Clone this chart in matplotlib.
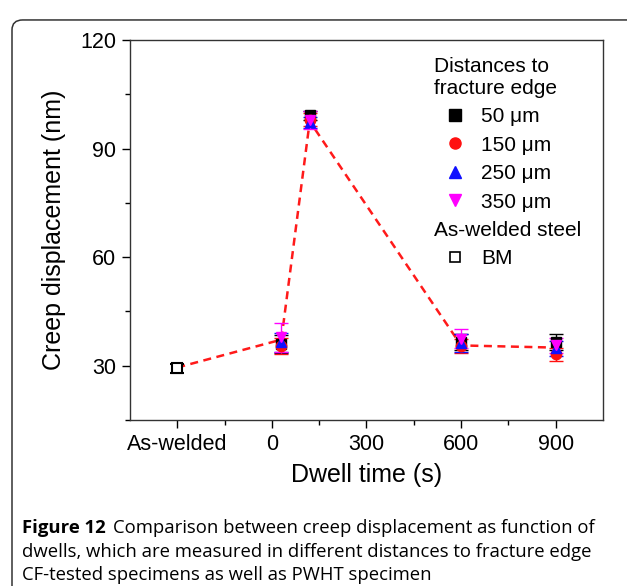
import numpy as np
import matplotlib
matplotlib.use("Agg")
import matplotlib.pyplot as plt
from matplotlib.lines import Line2D
from matplotlib.patches import FancyBboxPatch

# dwell times (s); "As-welded" base metal is put at -300 on the axis
dwell = [30, 120, 600, 900]
bm_x = [-300]
bm_y = [29.3]
bm_err = [1.2]

labels = ["50 \u03bcm", "150 \u03bcm", "250 \u03bcm", "350 \u03bcm"]
means = [
    [36.0, 99.2, 36.6, 36.5],   # 50 um
    [35.5, 98.0, 35.5, 33.2],   # 150 um
    [36.5, 97.2, 36.3, 34.8],   # 250 um
    [37.8, 97.8, 37.5, 35.6],   # 350 um
]
errs = [
    [2.5, 1.3, 2.2, 2.3],
    [2.2, 1.8, 2.0, 1.8],
    [2.6, 1.5, 2.5, 2.0],
    [4.0, 2.5, 2.7, 2.0],
]
# dashed trend line through the averaged values
trend_x = [-300, 30, 120, 600, 900]
trend_y = [29.5, 37.2, 97.5, 35.6, 35.0]

xticks = [-300, 0, 300, 600, 900]
xticklabels = ["As-welded", "0", "300", "600", "900"]

colors = ["black", "#ff1010", "#1010ff", "#ff00ff"]
markers = ["s", "o", "^", "v"]

plt.rcParams["font.family"] = ["Liberation Sans", "DejaVu Sans"]

fig = plt.figure(figsize=(6.27, 5.86), dpi=100)
ax = fig.add_axes([0.2073, 0.2833, 0.7544, 0.6485])

ax.plot(trend_x, trend_y, "--", color="#ff1a1a", lw=1.8, dashes=(3.2, 2.2), zorder=1)

for m, e, c, mk, lab in zip(means, errs, colors, markers, labels):
    ax.errorbar(dwell, m, yerr=e, fmt=mk, color=c, ecolor=c, ms=7.5,
                capsize=5, elinewidth=1, capthick=1, zorder=3, label=lab)

ax.errorbar(bm_x, bm_y, yerr=bm_err, fmt="s", mfc="white", mec="black",
            ecolor="black", ms=7, mew=1.5, capsize=5, elinewidth=1,
            capthick=1.2, zorder=3, label="BM")

ax.set_xlim(-450, 1050)
ax.set_ylim(15, 120)
ax.set_xticks(xticks)
ax.set_xticklabels(xticklabels)
ax.set_xticks([-150, 150, 450, 750], minor=True)
ax.set_yticks([30, 60, 90, 120])
ax.set_yticks([15, 45, 75, 105], minor=True)
ax.tick_params(which="major", direction="out", length=6, width=1,
               labelsize=15.5, pad=4)
ax.tick_params(which="minor", direction="out", length=3.5, width=1)
for s in ax.spines.values():
    s.set_color("#333333")
    s.set_linewidth(1)

ax.set_xlabel("Dwell time (s)", fontsize=18, labelpad=6)
ax.set_ylabel("Creep displacement (nm)", fontsize=18, labelpad=10)

# legend: two blocks with left aligned headers
leg_kw = dict(alignment="left", loc="upper left", frameon=False,
              fontsize=15, title_fontsize=15, handlelength=2.0,
              handletextpad=0.26, labelspacing=0.45, borderaxespad=0)
h = [Line2D([], [], ls="none", marker=mk, color=c, ms=8)
     for c, mk in zip(colors, markers)]
leg1 = ax.legend(h, labels, title="Distances to\nfracture edge",
                 bbox_to_anchor=(0.625, 0.977), **leg_kw)
ax.add_artist(leg1)
hb = [Line2D([], [], ls="none", marker="s", mfc="white", mec="black",
             mew=1.2, ms=7)]
ax.legend(hb, ["BM"], title="As-welded steel",
          bbox_to_anchor=(0.625, 0.546), **leg_kw)

# outer frame of the figure panel
frame = FancyBboxPatch((12 / 627, -0.1), 1.2, 1.083 - 10 / 586,
                       boxstyle="round,pad=0,rounding_size=0.017",
                       transform=fig.transFigure, fill=False,
                       ec="#333333", lw=1.1, clip_on=False)
fig.patches.append(frame)

# caption
cap_font = ["Open Sans", "DejaVu Sans"]
cap_size = 13.3
t = fig.text(22 / 627, 1 - 533 / 586, "Figure 12", fontsize=cap_size,
             fontweight="bold", family=cap_font, va="baseline")
ax.annotate("Comparison between creep displacement as function of",
            xy=(1, 0), xycoords=t, xytext=(5, 0), textcoords="offset points",
            fontsize=cap_size, family=cap_font, va="bottom", annotation_clip=False)
fig.text(22 / 627, 1 - 557 / 586,
         "dwells, which are measured in different distances to fracture edge",
         fontsize=cap_size, family=cap_font, va="baseline")
fig.text(22 / 627, 1 - 580 / 586,
         "CF-tested specimens as well as PWHT specimen",
         fontsize=cap_size, family=cap_font, va="baseline")

fig.savefig("out.png", dpi=100)
